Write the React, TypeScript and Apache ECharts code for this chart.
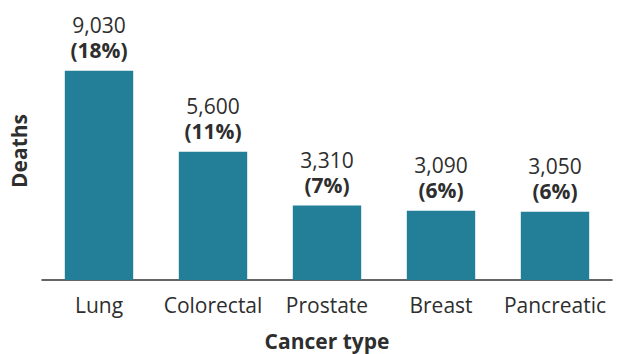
import React, { useEffect, useRef } from "react";
import * as echarts from "echarts";

const categories = ["Lung", "Colorectal", "Prostate", "Breast", "Pancreatic"];
const deaths = [9030, 5600, 3310, 3090, 3050];
const shares = ["18%", "11%", "7%", "6%", "6%"];

const FONT = "'Open Sans', 'Noto Sans', sans-serif";
const TEXT = "#2e2e2e";
const BAR = "#237e97";

export default function App() {
  const ref = useRef<HTMLDivElement>(null);
  useEffect(() => {
    if (!ref.current) return;
    const chart = echarts.init(ref.current, null, { renderer: "svg", width: 617, height: 354 });
    chart.setOption({
      animation: false,
      textStyle: { fontFamily: FONT },
      grid: {
        left: 42,
        right: 5,
        top: 48,
        bottom: 74,
        containLabel: false,
        outerBoundsMode: "none",
      },
      xAxis: {
        type: "category",
        data: categories,
        axisLine: { show: true, onZero: false, lineStyle: { color: "#333", width: 1.5 } },
        axisTick: { show: false },
        axisLabel: { color: TEXT, fontSize: 21, fontFamily: FONT, margin: 14, interval: 0 },
        name: "Cancer type",
        nameLocation: "middle",
        nameGap: 50,
        nameTextStyle: { color: TEXT, fontSize: 21, fontWeight: "bold", fontFamily: FONT },
      },
      yAxis: {
        type: "value",
        min: 150,
        max: 10000,
        axisLine: { show: false },
        axisTick: { show: false },
        axisLabel: { show: false },
        splitLine: { show: false },
      },
      graphic: [
        {
          type: "text",
          x: 19,
          y: 151,
          rotation: Math.PI / 2,
          style: {
            text: "Deaths",
            fill: TEXT,
            font: `bold 21px ${FONT}`,
            align: "center",
            verticalAlign: "middle",
          },
        },
      ],
      series: [
        {
          type: "bar",
          data: deaths,
          barWidth: "60%",
          itemStyle: { color: BAR },
          label: {
            show: true,
            position: "top",
            distance: 8,
            formatter: (p: any) =>
              `{a|${p.value.toLocaleString("en-US")}}\n{b|(${shares[p.dataIndex]})}`,
            rich: {
              a: { fontSize: 21, color: TEXT, fontFamily: FONT, lineHeight: 25 },
              b: { fontSize: 21, color: TEXT, fontFamily: FONT, fontWeight: "bold", lineHeight: 25 },
            },
          },
        },
      ],
    });
    return () => chart.dispose();
  }, []);
  return (
    <div
      ref={ref}
      style={{ position: "fixed", left: 0, top: 0, width: 617, height: 354, background: "#fff" }}
    />
  );
}
